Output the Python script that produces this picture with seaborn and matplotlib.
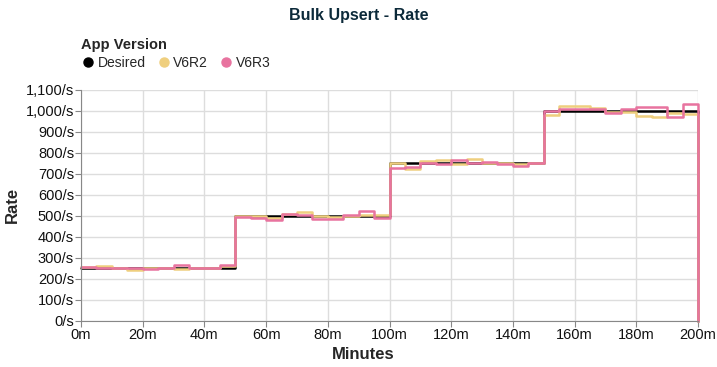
import pandas as pd
import matplotlib
matplotlib.use('Agg')
import matplotlib.pyplot as plt
import seaborn as sns
from matplotlib.lines import Line2D
from matplotlib.ticker import FuncFormatter, MultipleLocator

# Data, one value per 5 minute step, drops to 0 at 200m
minutes = [0, 5, 10, 15, 20, 25, 30, 35, 40, 45,
           50, 55, 60, 65, 70, 75, 80, 85, 90, 95,
           100, 105, 110, 115, 120, 125, 130, 135, 140, 145,
           150, 155, 160, 165, 170, 175, 180, 185, 190, 195, 200]
desired = [250] * 10 + [500] * 10 + [750] * 10 + [1000] * 10 + [0]
v6r2 = [255, 263, 252, 243, 250, 250, 245, 250, 250, 259,
        500, 497, 490, 510, 520, 500, 495, 500, 505, 503,
        750, 725, 762, 768, 745, 770, 752, 750, 745, 752,
        981, 1021, 1024, 1013, 997, 994, 976, 973, 989, 986, 0]
v6r3 = [257, 252, 250, 250, 248, 250, 265, 250, 250, 267,
        495, 492, 480, 507, 502, 483, 483, 502, 525, 492,
        730, 733, 750, 747, 768, 752, 755, 747, 738, 752,
        1001, 1008, 1008, 1008, 989, 1010, 1018, 1018, 973, 1032, 0]

versions = ['Desired', 'V6R2', 'V6R3']
colors = {'Desired': '#000000', 'V6R2': '#efcf7e', 'V6R3': '#e8739f'}

df = pd.DataFrame({
    'Minutes': minutes * 3,
    'Rate': desired + v6r2 + v6r3,
    'App Version': [v for v in versions for _ in minutes],
})

sns.set_style('white')
plt.rcParams['font.family'] = ['Liberation Sans', 'DejaVu Sans']

fig = plt.figure(figsize=(7.17, 3.67), dpi=100)
ax = fig.add_axes([0.113, 0.126, 0.8605, 0.629])

sns.lineplot(data=df, x='Minutes', y='Rate', hue='App Version',
             hue_order=versions, palette=colors, estimator=None,
             drawstyle='steps-post', linewidth=1.8, legend=False, ax=ax)
for ln in ax.get_lines():
    ln.set_clip_on(False)

ax.set_xlim(0, 200)
ax.set_ylim(0, 1100)
ax.xaxis.set_major_locator(MultipleLocator(20))
ax.yaxis.set_major_locator(MultipleLocator(100))
ax.xaxis.set_major_formatter(FuncFormatter(lambda v, p: f'{int(v)}m'))
ax.yaxis.set_major_formatter(FuncFormatter(lambda v, p: f'{int(v):,}/s'))
ax.grid(True, color='#dddddd', linewidth=1)
ax.set_axisbelow(True)
for s in ['top', 'right']:
    ax.spines[s].set_visible(False)
for s in ['left', 'bottom']:
    ax.spines[s].set_color('#888888')
ax.tick_params(axis='both', length=4, color='#888888', labelsize=10.5,
               labelcolor='#111111', left=True, bottom=True, pad=1)
ax.set_xlabel('Minutes', fontsize=12, fontweight='bold')
ax.xaxis.set_label_coords(0.457, -0.115)
ax.xaxis.label.set_va('top')
ax.set_ylabel('Rate', fontsize=12, fontweight='bold', labelpad=4)

fig.text(0.5, 0.958, 'Bulk Upsert - Rate', ha='center', va='center',
         fontsize=11.5, fontweight='bold', color='#0c2a3a')

handles = [Line2D([], [], marker='o', linestyle='', markersize=6.5,
                  color=colors[v]) for v in versions]
leg = fig.legend(handles, versions, title='App Version', ncol=3,
                 loc='upper left', bbox_to_anchor=(0.103, 0.915),
                 frameon=False, fontsize=10, handletextpad=0.2,
                 columnspacing=0.8, handlelength=1.0, borderpad=0,
                 alignment='left', labelspacing=0.3)
leg.get_title().set_fontweight('bold')
leg.get_title().set_fontsize(10.5)

fig.savefig('out.png', dpi=100)
